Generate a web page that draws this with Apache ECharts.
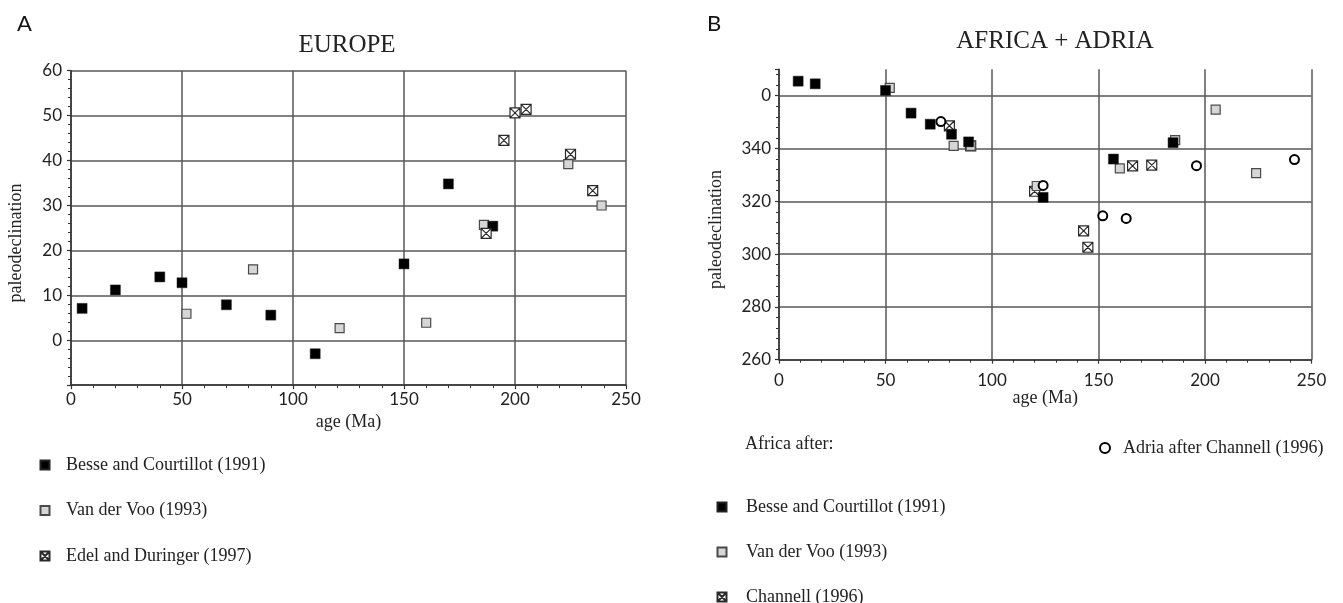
<!DOCTYPE html>
<html>
<head>
<meta charset="utf-8">
<script src="https://cdn.jsdelivr.net/npm/echarts@6/dist/echarts.min.js"></script>
<style>
  html, body { margin: 0; padding: 0; background: #fff; }
  #chart { width: 1343px; height: 603px; }
</style>
</head>
<body>
<div id="chart"></div>
<script>
// ---- Europe: paleodeclination (deg) against age (Ma) ----
const europeBesseAge = [5, 20, 40, 50, 70, 90, 110, 150, 170, 190];
const europeBesseDec = [7.1, 11.2, 14.1, 12.8, 7.9, 5.6, -3.0, 17.0, 34.8, 25.4];
const europeVdvAge = [52, 82, 121, 160, 186, 224, 239];
const europeVdvDec = [5.9, 15.8, 2.7, 3.9, 25.7, 39.2, 30.0];
const europeEdelAge = [187, 195, 200, 205, 225, 235];
const europeEdelDec = [23.8, 44.5, 50.6, 51.4, 41.4, 33.3];

// ---- Africa + Adria: paleodeclination (deg, 0-360) against age (Ma) ----
const africaBesseAge = [9, 17, 50, 62, 71, 81, 89, 124, 157, 185];
const africaBesseDec = [5.5, 4.5, 2.0, 353.4, 349.2, 345.4, 342.5, 321.5, 336.0, 342.2];
const africaVdvAge = [52, 82, 90, 121, 160, 186, 205, 224];
const africaVdvDec = [3.0, 341.0, 341.0, 325.8, 332.5, 343.2, 354.7, 330.7];
const africaChannellAge = [80, 90, 120, 143, 145, 166, 175];
const africaChannellDec = [348.6, 341.0, 323.8, 308.8, 302.6, 333.4, 333.7];
const adriaAge = [76, 124, 152, 163, 196, 242];
const adriaDec = [350.2, 326.0, 314.5, 313.5, 333.5, 335.8];

// tick labels
const ageTicks = [0, 50, 100, 150, 200, 250];
const europeDecTicks = [0, 10, 20, 30, 40, 50, 60];
const africaDecTicks = [260, 280, 300, 320, 340, 360];

const NAMES = {
  besse: 'Besse and Courtillot (1991)',
  vdv: 'Van der Voo (1993)',
  edel: 'Edel and Duringer (1997)',
  channell: 'Channell (1996)',
  adria: 'Adria after Channell (1996)'
};

const SERIF = '"Liberation Serif", "Times New Roman", serif';
const SANS = 'Lato, "DejaVu Sans", sans-serif';
const GRID_COLOR = '#575757';
const AXIS_COLOR = '#333';
const CROSSED = 'path://M0 0H10V10H0ZM0 0L10 10M10 0L0 10';

function pairs(xs, ys, mapY) {
  return xs.map((x, i) => [x, mapY ? mapY(ys[i]) : ys[i]]);
}
// declinations just past north are drawn above 360 so the axis runs continuously
const wrapDec = d => (d < 180 ? d + 360 : d);

const styles = {
  besse: { symbol: 'rect', symbolSize: 10, itemStyle: { color: '#000000', borderColor: '#222', borderWidth: 0.5, opacity: 1 } },
  vdv: { symbol: 'rect', symbolSize: 9, itemStyle: { color: '#d6d6d6', borderColor: '#4a4a4a', borderWidth: 1.2, opacity: 1 } },
  crossed: { symbol: CROSSED, symbolSize: 10, itemStyle: { color: '#ffffff', borderColor: '#2a2a2a', borderWidth: 1.2, opacity: 1 } },
  adria: { symbol: 'circle', symbolSize: 9, itemStyle: { color: '#ffffff', borderColor: '#000', borderWidth: 2, opacity: 1 } }
};

function scatter(name, key, grid, data) {
  return Object.assign({
    name: name,
    type: 'scatter',
    xAxisIndex: grid,
    yAxisIndex: grid,
    data: data,
    silent: true,
    emphasis: { disabled: true }
  }, JSON.parse(JSON.stringify(styles[key])));
}

function ageAxis(grid, labelMargin, nameGap) {
  return {
    type: 'value', gridIndex: grid, min: 0, max: 250, interval: 50,
    name: 'age (Ma)', nameLocation: 'middle', nameGap: nameGap,
    nameTextStyle: { fontFamily: SERIF, fontSize: 18, color: '#222' },
    axisLine: { show: true, onZero: false, lineStyle: { color: AXIS_COLOR, width: 1.5 } },
    axisTick: { show: true, length: 4, lineStyle: { color: AXIS_COLOR, width: 1.2 } },
    minorTick: { show: true, splitNumber: 5, length: 3, lineStyle: { color: AXIS_COLOR, width: 1 } },
    axisLabel: {
      margin: labelMargin, fontFamily: SANS, fontSize: 17, color: '#222',
      formatter: v => (ageTicks.indexOf(v) >= 0 ? String(v) : '')
    },
    splitLine: { show: true, lineStyle: { color: GRID_COLOR, width: 1.5 } }
  };
}

function legendBlock(left, top, names, gap, pad, size) {
  return {
    orient: 'vertical', left: left, top: top, height: 160,
    itemWidth: size, itemHeight: size, itemGap: gap,
    data: names,
    selectedMode: false,
    textStyle: { fontFamily: SERIF, fontSize: 18, color: '#222', lineHeight: 20, padding: [0, 0, 0, pad] }
  };
}

const option = {
  backgroundColor: '#ffffff',
  animation: false,
  title: [
    { text: 'A', left: 12, top: 8, textStyle: { fontFamily: SANS, fontSize: 22, fontWeight: 'normal', color: '#111' } },
    { text: 'EUROPE', left: 342, top: 28, textAlign: 'center', textStyle: { fontFamily: SERIF, fontSize: 25, fontWeight: 'normal', color: '#222' } },
    { text: 'B', left: 702, top: 8, textStyle: { fontFamily: SANS, fontSize: 22, fontWeight: 'normal', color: '#111' } },
    { text: 'AFRICA + ADRIA', left: 1050, top: 24, textAlign: 'center', textStyle: { fontFamily: SERIF, fontSize: 25, fontWeight: 'normal', color: '#222' } }
  ],
  grid: [
    { left: 71, top: 70.7, width: 555, height: 314.5 },
    { left: 779, top: 69.3, width: 532.5, height: 290.4 }
  ],
  xAxis: [ageAxis(0, 6, 24), ageAxis(1, 12, 28)],
  yAxis: [
    {
      type: 'value', gridIndex: 0, min: -10, max: 60, interval: 10,
      name: 'paleodeclination', nameLocation: 'middle', nameGap: 46,
      nameTextStyle: { fontFamily: SERIF, fontSize: 18, color: '#222', padding: [0, 30, 0, 0] },
      axisLine: { show: true, lineStyle: { color: AXIS_COLOR, width: 1.5 } },
      axisTick: { show: true, length: 4, lineStyle: { color: AXIS_COLOR, width: 1.2 } },
      minorTick: { show: true, splitNumber: 5, length: 3, lineStyle: { color: AXIS_COLOR, width: 1 } },
      axisLabel: {
        margin: 9, fontFamily: SANS, fontSize: 17, color: '#222',
        formatter: v => (europeDecTicks.indexOf(v) >= 0 ? String(v) : '')
      },
      splitLine: { show: true, lineStyle: { color: GRID_COLOR, width: 1.5 } }
    },
    {
      type: 'value', gridIndex: 1, min: 260, max: 370, interval: 20,
      name: 'paleodeclination', nameLocation: 'middle', nameGap: 54,
      nameTextStyle: { fontFamily: SERIF, fontSize: 18, color: '#222', padding: [0, 30, 0, 0] },
      axisLine: { show: true, lineStyle: { color: AXIS_COLOR, width: 1.5 } },
      axisTick: { show: true, length: 4, lineStyle: { color: AXIS_COLOR, width: 1.2 } },
      minorTick: { show: true, splitNumber: 5, length: 3, lineStyle: { color: AXIS_COLOR, width: 1 } },
      axisLabel: {
        margin: 8, fontFamily: SANS, fontSize: 17, color: '#222',
        formatter: v => (africaDecTicks.indexOf(v) < 0 ? '' : (v === 360 ? '0' : String(v)))
      },
      // no rule along the open top edge of this panel
      splitLine: {
        show: true,
        lineStyle: {
          color: [GRID_COLOR, GRID_COLOR, GRID_COLOR, GRID_COLOR, GRID_COLOR, GRID_COLOR, 'rgba(0,0,0,0)'],
          width: 1.5
        }
      }
    }
  ],
  legend: [
    legendBlock(34.5, 450, [NAMES.besse, NAMES.vdv, NAMES.edel], 25.5, 11.5, 9),
    legendBlock(711.5, 492, [NAMES.besse, NAMES.vdv, NAMES.channell], 25, 14.5, 9),
    legendBlock(1094, 433, [NAMES.adria], 20, 8, 10)
  ],
  graphic: [
    {
      type: 'text', left: 745, top: 435,
      style: { text: 'Africa after:', font: '18px ' + SERIF, fill: '#222' }
    }
  ],
  series: [
    scatter(NAMES.vdv, 'vdv', 0, pairs(europeVdvAge, europeVdvDec)),
    scatter(NAMES.besse, 'besse', 0, pairs(europeBesseAge, europeBesseDec)),
    scatter(NAMES.edel, 'crossed', 0, pairs(europeEdelAge, europeEdelDec)),
    scatter(NAMES.channell, 'crossed', 1, pairs(africaChannellAge, africaChannellDec, wrapDec)),
    scatter(NAMES.vdv, 'vdv', 1, pairs(africaVdvAge, africaVdvDec, wrapDec)),
    scatter(NAMES.besse, 'besse', 1, pairs(africaBesseAge, africaBesseDec, wrapDec)),
    scatter(NAMES.adria, 'adria', 1, pairs(adriaAge, adriaDec, wrapDec))
  ]
};

const chart = echarts.init(document.getElementById('chart'), null, { renderer: 'canvas' });
chart.setOption(option);
</script>
</body>
</html>
